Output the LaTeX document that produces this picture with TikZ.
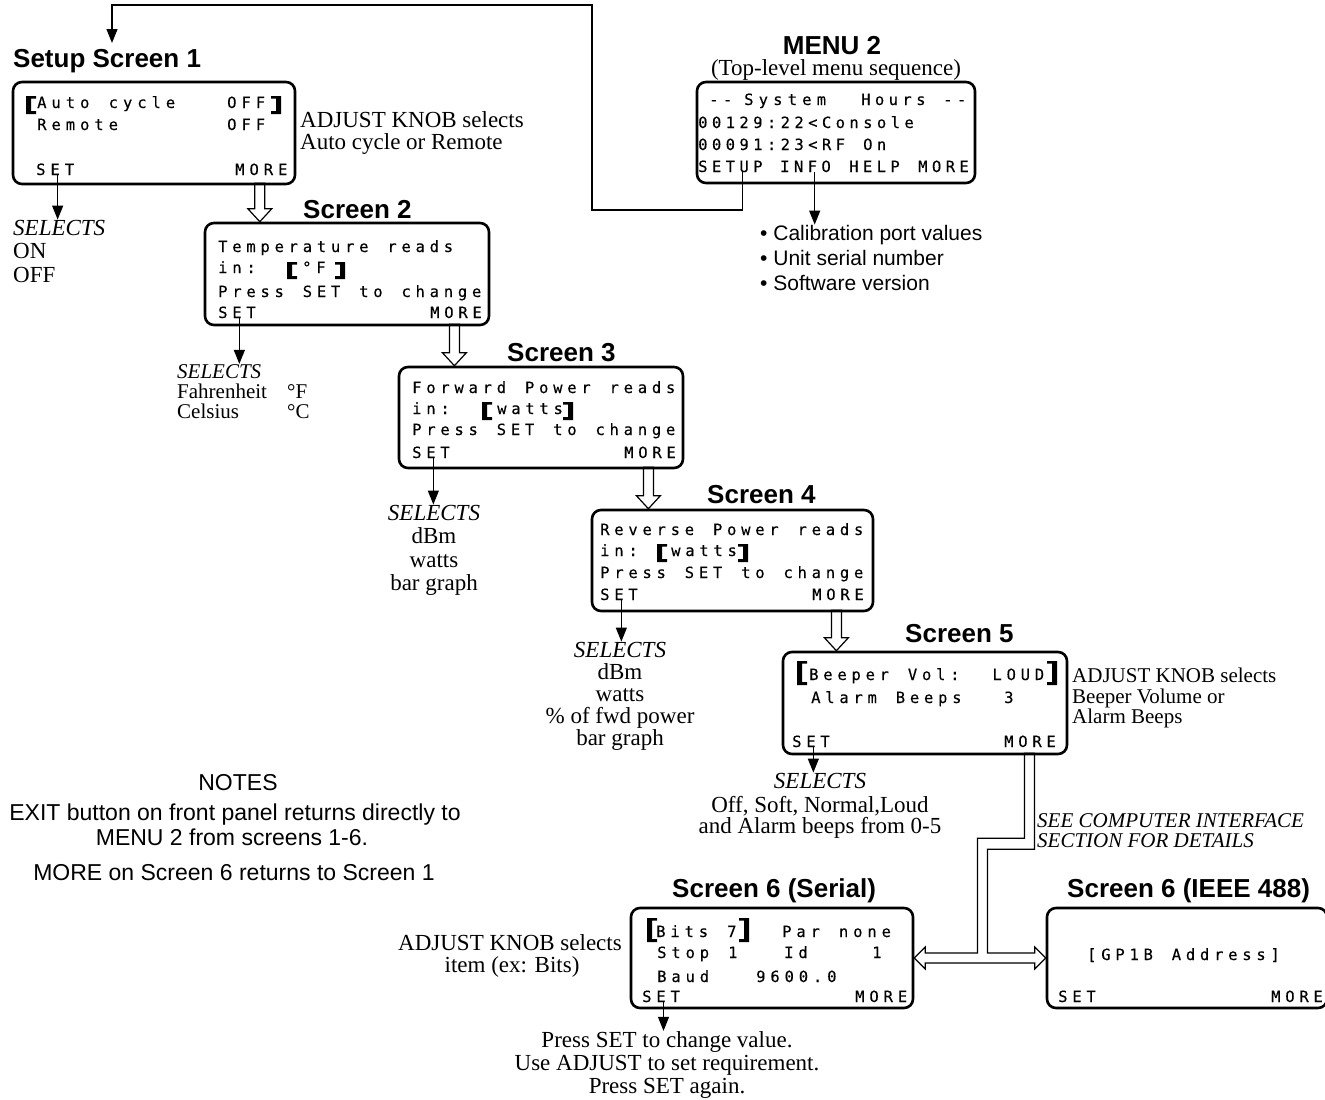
\documentclass[tikz,border=0pt]{standalone}
\usepackage{fontspec}
\setmainfont{Liberation Serif}
\setsansfont{Liberation Sans}
\newfontfamily\lcdfam[FakeBold=0.25]{DejaVu Sans Mono}
\usetikzlibrary{arrows.meta,calc,backgrounds}
\newlength\lcdpitch
\setlength\lcdpitch{14.1pt}
\makeatletter
\newcommand\lcd[1]{\@tfor\lcd@c:=#1\do{\makebox[\lcdpitch][l]{\lcd@c}}}
\makeatother
% bold LCD brackets: x, ytop, ybottom (pixel coordinates)
\newcommand\lbrk[3]{\fill (#1,#2) -- (#1+10,#2) -- (#1+10,#2+2.5) -- (#1+5,#2+2.5) -- (#1+5,#3-3) -- (#1+10,#3-3) -- (#1+10,#3) -- (#1,#3) -- cycle;}
\newcommand\rbrk[3]{\fill (#1,#2) -- (#1-10,#2) -- (#1-10,#2+2.5) -- (#1-5,#2+2.5) -- (#1-5,#3-3) -- (#1-10,#3-3) -- (#1-10,#3) -- (#1,#3) -- cycle;}
% hollow down arrow from coordinate #1 to the height of #2
\newcommand\hdown[2]{\draw[hollow] let \p1=(#1), \p2=(#2) in (\x1-5pt,\y1) -- (\x1-5pt,\y2+13pt) -- (\x1-12pt,\y2+13pt) -- (\x1,\y2) -- (\x1+12pt,\y2+13pt) -- (\x1+5pt,\y2+13pt) -- (\x1+5pt,\y1) -- cycle;}
\tikzset{
  lcdbox/.style={draw, line width=2.6pt, rounded corners=9pt, inner sep=0pt},
  title/.style={font=\sffamily\bfseries\fontsize{26}{30}\selectfont, anchor=base west, inner sep=0pt},
  lcdt/.style={font={\lcdfam\fontsize{15.5}{17}\selectfont\setlength\lcdpitch{#1pt}}, anchor=base west, inner sep=0pt},
  lcdt/.default=14.1,
  sr/.style={font=\fontsize{23}{26}\selectfont, anchor=base west, inner sep=0pt},
  srm/.style={font=\fontsize{21}{23}\selectfont, anchor=base west, inner sep=0pt},
  srs/.style={font=\fontsize{21}{24}\selectfont, anchor=base west, inner sep=0pt},
  ss/.style={font=\sffamily\fontsize{21}{24}\selectfont, anchor=base west, inner sep=0pt},
  ns/.style={font=\sffamily\fontsize{23}{26}\selectfont, anchor=base, inner sep=0pt},
  arr/.style={line width=1.2pt, -{Triangle[width=11pt,length=14pt]}},
  hollow/.style={draw, fill=white, line width=1.2pt, line join=miter},
}
\begin{document}
\begin{tikzpicture}[x=1pt,y=-1pt]
\useasboundingbox (0,0) rectangle (1325,1100);

% ---------- screen boxes ----------
\node[lcdbox, minimum width=282pt, minimum height=102pt] (s1) at (154,133) {};
\node[lcdbox, minimum width=278pt, minimum height=101pt] (m2) at (836,132.5) {};
\node[lcdbox, minimum width=284pt, minimum height=102pt] (s2) at (347,274) {};
\node[lcdbox, minimum width=284pt, minimum height=101pt] (s3) at (541,417.5) {};
\node[lcdbox, minimum width=281pt, minimum height=101pt] (s4) at (732.5,560.5) {};
\node[lcdbox, minimum width=284pt, minimum height=102pt] (s5) at (925,703) {};
\node[lcdbox, minimum width=282pt, minimum height=100pt] (s6s) at (772,958) {};
\node[lcdbox, minimum width=280pt, minimum height=100pt] (s6i) at (1187,958) {};

% ---------- titles ----------
\node[title] (t1) at (13,67) {Setup Screen 1};
\node[title, anchor=base] (tm2) at (832,54) {MENU 2};
\node[sr, anchor=base] (tm2s) at (836,75) {(Top-level menu sequence)};
\node[title] (t2) at (303,218) {Screen 2};
\node[title] (t3) at (507,361) {Screen 3};
\node[title] (t4) at (707,503) {Screen 4};
\node[title] (t5) at (905,642) {Screen 5};
\node[title] (t6s) at (672,897) {Screen 6 (Serial)};
\node[title] (t6i) at (1067,897) {Screen 6 (IEEE 488)};

% ---------- Setup screen 1 ----------
\node[lcdt=14.3] (s1a) at (37,108) {\lcd{Auto~cycle}};
\node[lcdt=14.3] (s1a2) at (227,108) {\lcd{OFF}};
\node[lcdt=14.3] (s1b) at (37,130) {\lcd{Remote}};
\node[lcdt=14.3] (s1b2) at (227,130) {\lcd{OFF}};
\node[lcdt=14.3] (s1set) at (36,175) {\lcd{SET}};
\node[lcdt=14.3] (s1more) at (235,175) {\lcd{MORE}};
\lbrk{26}{96}{114}
\rbrk{281}{96}{114}

% ---------- MENU 2 ----------
\node[lcdt=13.75] (m2a) at (709,105) {\lcd{--}};
\node[lcdt=14.5] (m2b) at (744,105) {\lcd{System}};
\node[lcdt=13.75] (m2c) at (861,105) {\lcd{Hours}};
\node[lcdt=13.75] (m2d) at (943,105) {\lcd{--}};
\node[lcdt=13.75] (m2e) at (698,128) {\lcd{00129:22<Console}};
\node[lcdt=13.75] (m2f) at (698,150) {\lcd{00091:23<RF~On}};
\node[lcdt=13.75] (setup) at (698,172) {\lcd{SETUP}};
\node[lcdt=13.75] (info) at (780,172) {\lcd{INFO}};
\node[lcdt=13.75] (help) at (849,172) {\lcd{HELP}};
\node[lcdt=13.75] (m2more) at (918,172) {\lcd{MORE}};

% ---------- Screen 2 ----------
\node[lcdt] (s2a) at (218,252) {\lcd{Temperature~reads}};
\node[lcdt] (s2b) at (218,273) {\lcd{in:}};
\node[lcdt] (s2c) at (302,273) {\lcd{°F}};
\node[lcdt] (s2d) at (218,297) {\lcd{Press~SET~to~change}};
\node[lcdt] (s2set) at (218,318) {\lcd{SET}};
\node[lcdt] (s2more) at (430,318) {\lcd{MORE}};
\lbrk{287}{262}{279}
\rbrk{345}{262}{279}

% ---------- Screen 3 ----------
\node[lcdt] (s3a) at (412,393) {\lcd{Forward~Power~reads}};
\node[lcdt] (s3b) at (412,414) {\lcd{in:}};
\node[lcdt] (s3c) at (497,414) {\lcd{watts}};
\node[lcdt] (s3d) at (412,435) {\lcd{Press~SET~to~change}};
\node[lcdt] (s3set) at (412,458) {\lcd{SET}};
\node[lcdt] (s3more) at (624,458) {\lcd{MORE}};
\lbrk{482}{402}{420}
\rbrk{573}{402}{420}

% ---------- Screen 4 ----------
\node[lcdt] (s4a) at (600,535) {\lcd{Reverse~Power~reads}};
\node[lcdt] (s4b) at (600,556) {\lcd{in:}};
\node[lcdt] (s4c) at (671,556) {\lcd{watts}};
\node[lcdt] (s4d) at (600,578) {\lcd{Press~SET~to~change}};
\node[lcdt] (s4set) at (600,600) {\lcd{SET}};
\node[lcdt] (s4more) at (812,600) {\lcd{MORE}};
\lbrk{657}{544}{562}
\rbrk{748}{544}{562}

% ---------- Screen 5 ----------
\node[lcdt] (s5a) at (809,680) {\lcd{Beeper~Vol:~~LOUD}};
\node[lcdt] (s5b) at (811,703) {\lcd{Alarm~Beeps}};
\node[lcdt] (s5c) at (1004,703) {\lcd{3}};
\node[lcdt] (s5set) at (792,747) {\lcd{SET}};
\node[lcdt] (s5more) at (1004,747) {\lcd{MORE}};
\lbrk{797}{661}{685}
\rbrk{1057}{661}{685}

% ---------- Screen 6 serial ----------
\node[lcdt=14.2] (s6a) at (656,937) {\lcd{Bits~7}};
\node[lcdt=14.2] (s6b) at (782,937) {\lcd{Par~none}};
\node[lcdt=14.2] (s6c) at (657,958) {\lcd{Stop~1}};
\node[lcdt=14.2] (s6d) at (784,958) {\lcd{Id}};
\node[lcdt=14.2] (s6e) at (872,958) {\lcd{1}};
\node[lcdt=14.2] (s6f) at (657,982) {\lcd{Baud}};
\node[lcdt=14.2] (s6g) at (756,982) {\lcd{9600.0}};
\node[lcdt=14.2] (s6set) at (642,1002) {\lcd{SET}};
\node[lcdt=14.2] (s6more) at (855,1002) {\lcd{MORE}};
\lbrk{647}{918}{942}
\rbrk{749}{918}{942}

% ---------- Screen 6 IEEE ----------
\node[lcdt] (s7a) at (1087,960) {\lcd{[GP1B~Address]}};
\node[lcdt] (s7set) at (1058,1002) {\lcd{SET}};
\node[lcdt] (s7more) at (1271,1002) {\lcd{MORE}};

% ---------- annotations ----------
\node[sr] (n1a) at (300,127) {ADJUST KNOB selects};
\node[sr] (n1b) at (300,149) {Auto cycle or Remote};

\node[sr] (sel1) at (13,235) {\textit{SELECTS}};
\node[sr] (sel1a) at (13,258) {ON};
\node[sr] (sel1b) at (13,282) {OFF};

\node[srm] (sel2) at (177,378) {\textit{SELECTS}};
\node[srm] (sel2a) at (177,398) {Fahrenheit};
\node[srm] (sel2a2) at (287,398) {°F};
\node[srm] (sel2b) at (177,418) {Celsius};
\node[srm] (sel2b2) at (287,418) {°C};

\node[sr, anchor=base] (sel3) at (434,520) {\textit{SELECTS}};
\node[sr, anchor=base] (sel3a) at (434,543) {dBm};
\node[sr, anchor=base] (sel3b) at (434,567) {watts};
\node[sr, anchor=base] (sel3c) at (434,590) {bar graph};

\node[sr, anchor=base] (sel4) at (620,657) {\textit{SELECTS}};
\node[sr, anchor=base] (sel4a) at (620,679.5) {dBm};
\node[sr, anchor=base] (sel4b) at (620,701) {watts};
\node[sr, anchor=base] (sel4c) at (620,723) {\% of fwd power};
\node[sr, anchor=base] (sel4d) at (620,745) {bar graph};

\node[sr, anchor=base] (sel5) at (820,788) {\textit{SELECTS}};
\node[sr, anchor=base] (sel5a) at (820,812) {Off, Soft, Normal,Loud};
\node[sr, anchor=base] (sel5b) at (820,833) {and Alarm beeps from 0-5};

\node[srs] (n5a) at (1072,682) {ADJUST KNOB selects};
\node[srs] (n5b) at (1072,703) {Beeper Volume or};
\node[srs] (n5c) at (1072,723) {Alarm Beeps};

\node[srs] (see1) at (1037,827) {\textit{SEE COMPUTER INTERFACE}};
\node[srs] (see2) at (1037,847) {\textit{SECTION FOR DETAILS}};

\node[sr, anchor=base] (n6a) at (510,950) {ADJUST KNOB selects};
\node[sr, anchor=base] (n6b) at (512,972) {item (ex: Bits)};

\node[sr, anchor=base] (p1) at (667,1047) {Press SET to change value.};
\node[sr, anchor=base] (p2) at (667,1070) {Use ADJUST to set requirement.};
\node[sr, anchor=base] (p3) at (667,1093) {Press SET again.};

\node[ss] (bul1) at (760,240) {• Calibration port values};
\node[ss] (bul2) at (760,265) {• Unit serial number};
\node[ss] (bul3) at (760,290) {• Software version};

\node[ns] (notes) at (238,790) {NOTES};
\node[ns] (no1) at (235,820) {EXIT button on front panel returns directly to};
\node[ns] (no2) at (232,845) {MENU 2 from screens 1-6.};
\node[ns] (no3) at (234,880) {MORE on Screen 6 returns to Screen 1};

% ---------- connectors ----------
\begin{pgfonlayer}{background}
\coordinate (m2su) at ($(setup.south)+(10pt,0)$);
\coordinate (tB) at (592,210);
\coordinate (tD) at (112,5);
\coordinate (s1in) at (112,43);
\draw[arr] (m2su) |- (tB) |- (tD) -- (s1in);

\coordinate (infoa) at ($(info.south)+(7pt,0)$);
\draw[arr] (infoa) -- (infoa |- bul1.north);

\draw[arr] (s1set.south) -- (s1set.south |- sel1.north);
\draw[arr] (s2set.south) -- (s2set.south |- sel2.north);
\draw[arr] (s3set.south) -- (s3set.south |- sel3.north);
\draw[arr] (s4set.south) -- (s4set.south |- sel4.north);
\draw[arr] (s5set.south) -- (s5set.south |- sel5.north);
\draw[arr] (s6set.south) -- (s6set.south |- p1.north);

\coordinate (h1) at ($(s1more.center |- s1.south)+(-4pt,2pt)$);
\coordinate (h2) at ($(s2more.center |- s2.south)+(-4pt,2pt)$);
\coordinate (h3) at ($(s3more.center |- s3.south)+(-4pt,2pt)$);
\coordinate (h4) at ($(s4more.center |- s4.south)+(-4pt,2pt)$);
\hdown{h1}{s2.north}
\hdown{h2}{s3.north}
\hdown{h3}{s4.north}
\hdown{h4}{s5.north}

\coordinate (d0) at ($(s5more.center |- s5.south)+(-3pt,2pt)$);
\draw[hollow] let \p0=(d0), \p1=(s6s.east), \p2=(s6i.west) in
  (\x0-5pt,\y0) -- (\x0-5pt,\y0-85pt) -- (\x0-52pt,\y0-85pt) -- (\x0-52pt,\y1+5pt)
  -- (\x1+11pt,\y1+5pt) -- (\x1+11pt,\y1+11pt) -- (\x1,\y1) -- (\x1+11pt,\y1-11pt) -- (\x1+11pt,\y1-5pt)
  -- (\x2-11pt,\y1-5pt) -- (\x2-11pt,\y1-11pt) -- (\x2,\y1) -- (\x2-11pt,\y1+11pt) -- (\x2-11pt,\y1+5pt)
  -- (\x0-42pt,\y1+5pt) -- (\x0-42pt,\y0-96pt) -- (\x0+5pt,\y0-96pt) -- (\x0+5pt,\y0) -- cycle;
\end{pgfonlayer}
\end{tikzpicture}
\end{document}
